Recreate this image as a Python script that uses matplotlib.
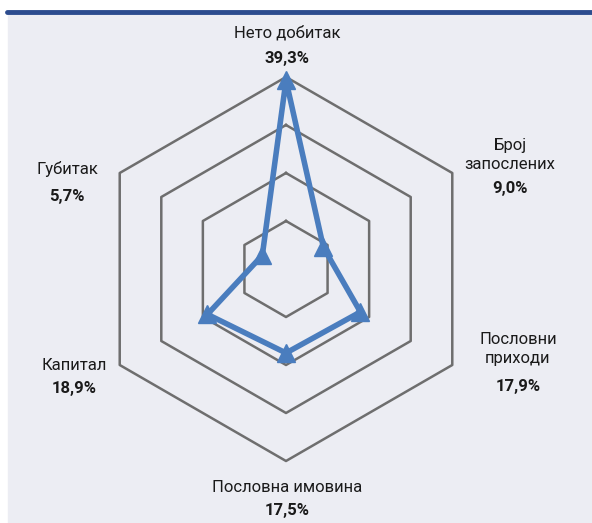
import numpy as np
import matplotlib.pyplot as plt
from matplotlib.patches import Rectangle
from matplotlib.lines import Line2D

plt.rcParams['font.family'] = ['Roboto', 'DejaVu Sans']

# data (clockwise from the top)
categories = ['Нето добитак', 'Број\nзапослених', 'Пословни\nприходи',
              'Пословна имовина', 'Капитал', 'Губитак']
values = [39.3, 9.0, 17.9, 17.5, 18.9, 5.7]
value_labels = ['39,3%', '9,0%', '17,9%', '17,5%', '18,9%', '5,7%']
rings = [10, 20, 30, 40]

W, H = 592, 523
fig = plt.figure(figsize=(W / 100, H / 100), dpi=100)
fig.patch.set_facecolor('white')

# panel background and top rule
fig.patches.append(Rectangle((8 / W, 0), (W - 8) / W, (H - 12) / H,
                             transform=fig.transFigure, color='#ECEDF3', zorder=-2))
fig.lines.append(Line2D([7 / W, 1], [1 - 12 / H, 1 - 12 / H], transform=fig.transFigure,
                        color='#2C4C8E', lw=3.5, solid_capstyle='round', zorder=-1))

# polar axes: centre at (286, 269) px, outer radius 192 px
cx, cy, R = 286, 269, 192
ax = fig.add_axes([(cx - R) / W, (H - cy - R) / H, 2 * R / W, 2 * R / H], polar=True)
ax.set_facecolor('none')
ax.set_theta_offset(np.pi / 2)
ax.set_theta_direction(-1)
ax.set_ylim(0, 40)
ax.grid(False)
ax.spines['polar'].set_visible(False)
ax.set_xticks([])
ax.set_yticks([])

n = len(categories)
theta = np.linspace(0, 2 * np.pi, n, endpoint=False)
theta_closed = np.append(theta, theta[0])

for r in rings:
    ax.plot(theta_closed, [r] * (n + 1), color='#6E6E6E', lw=1.8, zorder=2,
            clip_on=False)

vals_closed = values + values[:1]
ax.plot(theta_closed, vals_closed, color='#4A7DBE', lw=4, zorder=3,
        solid_joinstyle='round', clip_on=False)
ax.plot(theta, values, linestyle='none', marker='^', markersize=13,
        color='#4A7DBE', zorder=4, clip_on=False)

# labels (pixel positions of name / value)
label_pos = [(287, 33, 58), (510, 155, 189), (518, 349, 386),
             (287, 487, 511), (74, 365, 388), (67, 169, 196)]
for cat, vl, (x, yn, yv) in zip(categories, value_labels, label_pos):
    fig.text(x / W, 1 - yn / H, cat, ha='center', va='center', fontsize=12,
             color='#1A1A1A', linespacing=1.4)
    fig.text(x / W, 1 - yv / H, vl, ha='center', va='center', fontsize=12,
             fontweight='bold', color='#1A1A1A')

fig.savefig('out.png', dpi=100, facecolor=fig.get_facecolor())
